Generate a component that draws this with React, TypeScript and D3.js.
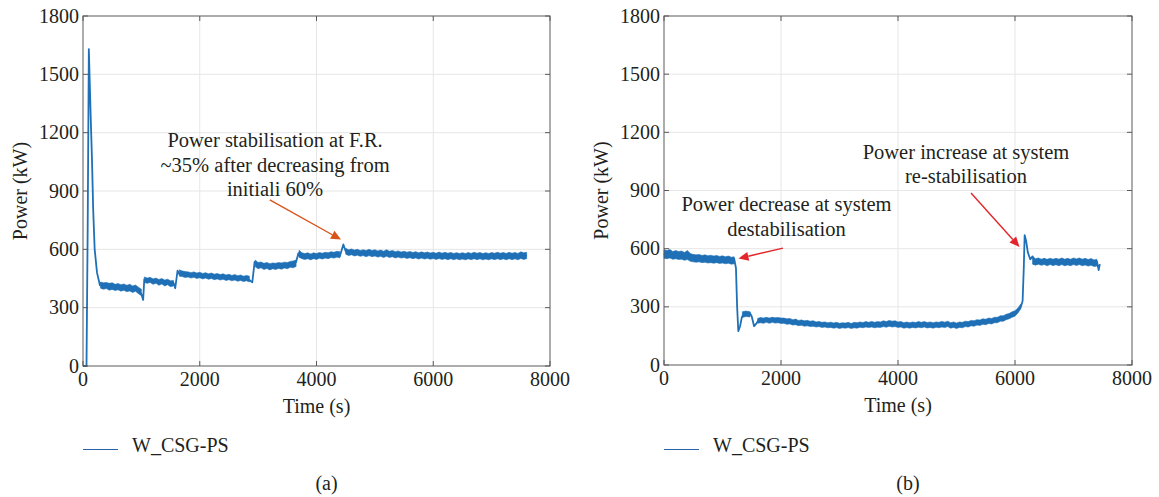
import React from "react";
import * as d3 from "d3";

const xTicks = [0, 2000, 4000, 6000, 8000];
const yTicks = [0, 300, 600, 900, 1200, 1500, 1800];
const seriesName = "W_CSG-PS";

// Panel (a): [time (s), power (kW)]
const seriesA: [number, number][] = [
  [0, 0], [60, 0], [80, 700], [100, 1630], [130, 1300], [155, 1050], [175, 800], [200, 600], [240, 480], [290, 415],
  [300, 425], [350, 405], [400, 418], [450, 400], [500, 412], [550, 398], [600, 408], [650, 392], [700, 405], [750, 395],
  [800, 402], [850, 388], [900, 398], [950, 380], [1000, 370], [1030, 340],
  [1050, 445], [1100, 432], [1150, 448], [1200, 430], [1250, 442], [1300, 425], [1350, 440], [1400, 422], [1450, 435],
  [1500, 418], [1550, 428], [1580, 400],
  [1620, 490], [1650, 472], [1700, 485], [1750, 468], [1800, 480], [1850, 462], [1900, 478], [1950, 460], [2000, 475],
  [2050, 458], [2100, 472], [2150, 455], [2200, 470], [2250, 455], [2300, 468], [2350, 452], [2400, 466], [2450, 450],
  [2500, 465], [2550, 448], [2600, 462], [2650, 446], [2700, 460], [2750, 444], [2800, 458], [2850, 442], [2900, 430],
  [2940, 535], [2980, 520], [3000, 512], [3050, 528], [3100, 505], [3150, 522], [3200, 502], [3250, 518], [3300, 505],
  [3350, 520], [3400, 508], [3450, 522], [3500, 510], [3550, 528], [3600, 515], [3650, 535],
  [3690, 580], [3720, 560], [3750, 572], [3800, 555], [3850, 570], [3900, 552], [3950, 568], [4000, 555], [4050, 572],
  [4100, 556], [4150, 570], [4200, 558], [4250, 574], [4300, 560], [4350, 576], [4400, 565], [4460, 625], [4500, 590],
  [4550, 575], [4600, 592], [4650, 574], [4700, 590], [4750, 572], [4800, 588], [4850, 570], [4900, 590], [4950, 572],
  [5000, 586], [5050, 568], [5100, 585], [5150, 568], [5200, 590], [5250, 570], [5300, 584], [5350, 566], [5400, 582],
  [5450, 565], [5500, 580], [5550, 563], [5600, 578], [5650, 562], [5700, 576], [5750, 560], [5800, 575], [5850, 558],
  [5900, 574], [5950, 558], [6000, 572], [6050, 556], [6100, 574], [6150, 556], [6200, 572], [6250, 555], [6300, 572],
  [6350, 556], [6400, 570], [6450, 555], [6500, 570], [6550, 554], [6600, 572], [6650, 556], [6700, 574], [6750, 556],
  [6800, 572], [6850, 555], [6900, 570], [6950, 554], [7000, 572], [7050, 556], [7100, 574], [7150, 556], [7200, 572],
  [7250, 555], [7300, 574], [7350, 556], [7400, 572], [7450, 555], [7500, 576], [7550, 558], [7600, 570],
];

// Panel (a) noise envelope: [time (s), low (kW), high (kW)], null = gap
const bandA: ([number, number, number] | null)[] = [
  [300, 400, 432], [350, 395, 428], [400, 398, 430], [450, 390, 425], [500, 394, 428], [550, 388, 420], [600, 392, 424],
  [650, 385, 418], [700, 390, 422], [750, 382, 415], [800, 386, 420], [850, 378, 412], [900, 384, 416], [950, 372, 405],
  [1000, 362, 395], null,
  [1050, 430, 458], [1100, 425, 452], [1150, 430, 456], [1200, 420, 448], [1250, 426, 452], [1300, 415, 445],
  [1350, 422, 450], [1400, 412, 442], [1450, 418, 446], [1500, 408, 438], [1550, 412, 440], null,
  [1650, 462, 495], [1700, 460, 488], [1750, 455, 486], [1800, 458, 484], [1850, 452, 480], [1900, 456, 484],
  [1950, 450, 478], [2000, 454, 482], [2050, 448, 476], [2100, 452, 480], [2150, 446, 474], [2200, 450, 478],
  [2250, 444, 472], [2300, 448, 476], [2350, 442, 470], [2400, 446, 474], [2450, 440, 468], [2500, 444, 472],
  [2550, 438, 466], [2600, 442, 470], [2650, 436, 464], [2700, 440, 468], [2750, 434, 462], [2800, 438, 466],
  [2850, 432, 462], null,
  [2950, 510, 545], [3000, 500, 532], [3050, 505, 535], [3100, 496, 528], [3150, 502, 532], [3200, 494, 526],
  [3250, 500, 530], [3300, 496, 528], [3350, 502, 532], [3400, 498, 530], [3450, 504, 534], [3500, 500, 532],
  [3550, 508, 538], [3600, 505, 540], [3650, 512, 545], null,
  [3700, 560, 595], [3750, 552, 582], [3800, 548, 578], [3850, 552, 582], [3900, 546, 576], [3950, 552, 582],
  [4000, 548, 578], [4050, 554, 584], [4100, 550, 580], [4150, 555, 585], [4200, 552, 582], [4250, 558, 588],
  [4300, 555, 585], [4350, 560, 590], [4400, 556, 588], null,
  [4500, 575, 605], [4550, 568, 598], [4600, 572, 602], [4650, 566, 596], [4700, 570, 600], [4750, 564, 594],
  [4800, 568, 598], [4850, 562, 594], [4900, 568, 600], [4950, 562, 594], [5000, 566, 598], [5050, 560, 592],
  [5100, 564, 596], [5150, 558, 590], [5200, 565, 598], [5250, 558, 590], [5300, 562, 594], [5350, 556, 588],
  [5400, 560, 592], [5450, 555, 586], [5500, 558, 590], [5550, 553, 585], [5600, 557, 589], [5650, 552, 584],
  [5700, 556, 588], [5750, 550, 582], [5800, 555, 587], [5850, 550, 582], [5900, 554, 586], [5950, 549, 581],
  [6000, 553, 585], [6050, 548, 580], [6100, 553, 586], [6150, 548, 580], [6200, 552, 585], [6250, 547, 580],
  [6300, 552, 584], [6350, 547, 579], [6400, 551, 583], [6450, 546, 578], [6500, 550, 583], [6550, 546, 578],
  [6600, 551, 584], [6650, 547, 579], [6700, 552, 585], [6750, 547, 580], [6800, 551, 584], [6850, 546, 578],
  [6900, 550, 583], [6950, 546, 578], [7000, 551, 584], [7050, 547, 580], [7100, 552, 585], [7150, 547, 580],
  [7200, 551, 584], [7250, 546, 579], [7300, 552, 585], [7350, 547, 580], [7400, 551, 584], [7450, 546, 579],
  [7500, 553, 587], [7550, 548, 582], [7600, 552, 585],
];

// Panel (b): [time (s), power (kW)]
const seriesB: [number, number][] = [
  [0, 575], [50, 560], [100, 585], [150, 555], [200, 578], [250, 560], [300, 575], [350, 556], [400, 580], [450, 552],
  [500, 565], [550, 545], [600, 560], [650, 540], [700, 558], [750, 538], [800, 556], [850, 538], [900, 555], [950, 535],
  [1000, 552], [1050, 535], [1100, 555], [1150, 532], [1200, 548], [1230, 500], [1250, 300], [1270, 175], [1300, 200],
  [1330, 245], [1370, 268], [1420, 260], [1470, 268], [1500, 250], [1540, 200], [1580, 215], [1620, 232], [1700, 225],
  [1750, 238], [1800, 226], [1850, 240], [1900, 228], [1950, 238], [2000, 225], [2050, 236], [2100, 222], [2150, 234],
  [2200, 220], [2250, 232], [2300, 218], [2350, 228], [2400, 214], [2450, 225], [2500, 212], [2550, 222], [2600, 208],
  [2650, 218], [2700, 205], [2750, 216], [2800, 204], [2850, 214], [2900, 200], [2950, 212], [3000, 198], [3050, 210],
  [3100, 200], [3150, 212], [3200, 196], [3250, 210], [3300, 198], [3350, 214], [3400, 200], [3450, 215], [3500, 202],
  [3550, 216], [3600, 200], [3650, 214], [3700, 202], [3750, 218], [3800, 204], [3850, 220], [3900, 205], [3950, 218],
  [4000, 203], [4050, 214], [4100, 198], [4150, 212], [4200, 197], [4250, 212], [4300, 198], [4350, 214], [4400, 200],
  [4450, 214], [4500, 198], [4550, 212], [4600, 197], [4650, 213], [4700, 200], [4750, 215], [4800, 202], [4850, 216],
  [4900, 198], [4950, 212], [5000, 196], [5050, 212], [5100, 200], [5150, 216], [5200, 204], [5250, 220], [5300, 208],
  [5350, 224], [5400, 212], [5450, 228], [5500, 215], [5550, 232], [5600, 220], [5650, 236], [5700, 226], [5750, 244],
  [5800, 234], [5850, 252], [5900, 246], [5950, 262], [6000, 262], [6050, 282], [6100, 300], [6130, 330], [6150, 500],
  [6165, 670], [6190, 640], [6220, 580], [6260, 545], [6300, 560], [6350, 525], [6400, 545], [6450, 522], [6500, 545],
  [6550, 520], [6600, 542], [6650, 518], [6700, 540], [6750, 520], [6800, 545], [6850, 518], [6900, 542], [6950, 520],
  [7000, 544], [7050, 522], [7100, 545], [7150, 520], [7200, 542], [7250, 518], [7300, 540], [7350, 515], [7400, 535],
  [7430, 490], [7450, 520],
];

// Panel (b) noise envelope: [time (s), low (kW), high (kW)], null = gap
const bandB: ([number, number, number] | null)[] = [
  [0, 550, 595], [50, 548, 590], [100, 552, 596], [150, 545, 585], [200, 548, 590], [250, 544, 585], [300, 546, 588],
  [350, 540, 580], [400, 544, 590], [450, 535, 575], [500, 532, 570], [550, 530, 568], [600, 532, 570], [650, 528, 565],
  [700, 530, 568], [750, 526, 563], [800, 528, 566], [850, 525, 562], [900, 528, 565], [950, 524, 560], [1000, 526, 563],
  [1050, 522, 558], [1100, 525, 562], [1150, 520, 556], [1200, 522, 558], null,
  [1340, 245, 275], [1400, 250, 278], [1470, 248, 275], null,
  [1600, 215, 240], [1650, 218, 245], [1700, 215, 242], [1750, 220, 246], [1800, 215, 242], [1850, 220, 246],
  [1900, 216, 244], [1950, 218, 245], [2000, 214, 242], [2050, 215, 242], [2100, 210, 238], [2150, 212, 240],
  [2200, 206, 234], [2250, 208, 236], [2300, 203, 230], [2350, 205, 232], [2400, 200, 228], [2450, 202, 230],
  [2500, 198, 226], [2550, 200, 228], [2600, 196, 222], [2650, 198, 225], [2700, 194, 220], [2750, 196, 222],
  [2800, 192, 218], [2850, 194, 221], [2900, 190, 217], [2950, 193, 220], [3000, 188, 215], [3050, 192, 218],
  [3100, 190, 216], [3150, 193, 220], [3200, 188, 214], [3250, 192, 220], [3300, 190, 218], [3350, 195, 222],
  [3400, 192, 219], [3450, 196, 224], [3500, 193, 220], [3550, 196, 225], [3600, 192, 220], [3650, 195, 224],
  [3700, 194, 222], [3750, 198, 228], [3800, 195, 224], [3850, 200, 230], [3900, 196, 226], [3950, 198, 228],
  [4000, 194, 222], [4050, 196, 224], [4100, 190, 218], [4150, 193, 222], [4200, 190, 218], [4250, 194, 222],
  [4300, 191, 219], [4350, 195, 224], [4400, 192, 220], [4450, 196, 224], [4500, 191, 219], [4550, 194, 222],
  [4600, 190, 218], [4650, 195, 222], [4700, 192, 220], [4750, 196, 225], [4800, 193, 221], [4850, 198, 226],
  [4900, 190, 218], [4950, 194, 222], [5000, 188, 216], [5050, 194, 222], [5100, 192, 220], [5150, 198, 226],
  [5200, 196, 224], [5250, 202, 230], [5300, 200, 228], [5350, 206, 234], [5400, 204, 232], [5450, 210, 238],
  [5500, 208, 236], [5550, 214, 242], [5600, 212, 240], [5650, 218, 246], [5700, 218, 246], [5750, 226, 254],
  [5800, 226, 254], [5850, 234, 262], [5900, 238, 266], [5950, 246, 274], [6000, 252, 280], [6050, 268, 294],
  [6100, 290, 315], null,
  [6300, 520, 560], [6350, 515, 548], [6400, 520, 552], [6450, 514, 546], [6500, 518, 550], [6550, 512, 545],
  [6600, 518, 550], [6650, 513, 546], [6700, 517, 550], [6750, 512, 546], [6800, 518, 552], [6850, 512, 546],
  [6900, 516, 550], [6950, 512, 545], [7000, 518, 552], [7050, 513, 547], [7100, 518, 552], [7150, 512, 546],
  [7200, 516, 550], [7250, 510, 544], [7300, 515, 549], [7350, 508, 542], [7400, 510, 545],
];

// Annotations in data coordinates
const notesA = ["Power stabilisation at F.R.", "~35% after decreasing from", "initiali 60%"];
const notesB1 = ["Power decrease at system", "destabilisation"];
const notesB2 = ["Power increase at system", "re-stabilisation"];

type Note = { lines: string[]; tx: number; ty: number; from: [number, number]; to: [number, number]; color: string };

const panels = [
  {
    label: "(a)",
    data: seriesA,
    band: bandA,
    left: 83,
    right: 550,
    top: 16,
    bottom: 366,
    notes: [
      { lines: notesA, tx: 3290, ty: 1126, from: [3200, 854], to: [4420, 650], color: "#d95319" } as Note,
    ],
  },
  {
    label: "(b)",
    data: seriesB,
    band: bandB,
    left: 664,
    right: 1132,
    top: 16,
    bottom: 365,
    notes: [
      { lines: notesB1, tx: 2094, ty: 792, from: [2034, 603], to: [1274, 549], color: "#e3262b" } as Note,
      { lines: notesB2, tx: 5162, ty: 1065, from: [5248, 887], to: [6077, 609], color: "#e3262b" } as Note,
    ],
  },
];

const FONT = "'Liberation Serif', 'DejaVu Serif', serif";
const FS = 20;
const FSN = 20.5;
const TXT = "#231f20";
const LINE = "#1f70b6";
const AXIS = "#5a5a5a";
const GRID = "#e6e6e6";

function Panel({ p }: { p: (typeof panels)[number] }) {
  const x = d3.scaleLinear().domain([0, 8000]).range([p.left, p.right]);
  const y = d3.scaleLinear().domain([0, 1800]).range([p.bottom, p.top]);
  const line = d3
    .line<[number, number]>()
    .x((d) => x(d[0]))
    .y((d) => y(d[1]));
  const area = d3
    .area<[number, number, number] | null>()
    .defined((d) => d !== null)
    .x((d) => x(d![0]))
    .y0((d) => y(d![1]))
    .y1((d) => y(d![2]));
  const tk = 5;
  const cx = (p.left + p.right) / 2;
  const cy = (p.top + p.bottom) / 2;
  return (
    <g>
      {xTicks.slice(1, -1).map((t) => (
        <line key={"gx" + t} x1={x(t)} x2={x(t)} y1={p.top} y2={p.bottom} stroke={GRID} strokeWidth={1} />
      ))}
      {yTicks.slice(1, -1).map((t) => (
        <line key={"gy" + t} x1={p.left} x2={p.right} y1={y(t)} y2={y(t)} stroke={GRID} strokeWidth={1} />
      ))}
      <path d={area(p.band) || ""} fill={LINE} stroke={LINE} strokeWidth={0.6} />
      <path d={line(p.data) || ""} fill="none" stroke={LINE} strokeWidth={1.8} strokeLinejoin="round" />
      <rect x={p.left} y={p.top} width={p.right - p.left} height={p.bottom - p.top} fill="none" stroke={AXIS} strokeWidth={1} />
      {xTicks.map((t) => (
        <g key={"tx" + t}>
          <line x1={x(t)} x2={x(t)} y1={p.bottom} y2={p.bottom - tk} stroke={AXIS} />
          <line x1={x(t)} x2={x(t)} y1={p.top} y2={p.top + tk} stroke={AXIS} />
          <text x={x(t)} y={p.bottom + 20} textAnchor="middle" fontFamily={FONT} fontSize={FS} fill={TXT}>
            {t}
          </text>
        </g>
      ))}
      {yTicks.map((t) => (
        <g key={"ty" + t}>
          <line x1={p.left} x2={p.left + tk} y1={y(t)} y2={y(t)} stroke={AXIS} />
          <line x1={p.right} x2={p.right - tk} y1={y(t)} y2={y(t)} stroke={AXIS} />
          <text x={p.left - 4} y={y(t) + 6.5} textAnchor="end" fontFamily={FONT} fontSize={FS} fill={TXT}>
            {t}
          </text>
        </g>
      ))}
      <text x={cx} y={p.bottom + 47} textAnchor="middle" fontFamily={FONT} fontSize={FS} fill={TXT}>
        Time (s)
      </text>
      <text
        transform={`translate(${p.left - 56},${cy}) rotate(-90)`}
        textAnchor="middle"
        fontFamily={FONT}
        fontSize={FS}
        fill={TXT}
      >
        Power (kW)
      </text>
      <line x1={p.left} x2={p.left + 35} y1={449.5} y2={449.5} stroke="#2a64a8" strokeWidth={1.2} />
      <text x={p.left + 49} y={452} fontFamily={FONT} fontSize={FS} fill={TXT}>
        {seriesName}
      </text>
      <text x={x(4000) + 10} y={490} textAnchor="middle" fontFamily={FONT} fontSize={FS} fill={TXT}>
        {p.label}
      </text>
      {p.notes.map((n, i) => {
        const x1 = x(n.from[0]);
        const y1 = y(n.from[1]);
        const x2 = x(n.to[0]);
        const y2 = y(n.to[1]);
        const ang = Math.atan2(y2 - y1, x2 - x1);
        const L = 10;
        const W = 4.5;
        const bx = x2 - L * Math.cos(ang);
        const by = y2 - L * Math.sin(ang);
        const px = -Math.sin(ang) * W;
        const py = Math.cos(ang) * W;
        return (
          <g key={"n" + i}>
            {n.lines.map((s, j) => (
              <text
                key={j}
                x={x(n.tx)}
                y={y(n.ty) + j * 24.5}
                textAnchor="middle"
                fontFamily={FONT}
                fontSize={FSN}
                fill={TXT}
              >
                {s}
              </text>
            ))}
            <line x1={x1} y1={y1} x2={bx} y2={by} stroke={n.color} strokeWidth={1.4} />
            <polygon points={`${x2},${y2} ${bx + px},${by + py} ${bx - px},${by - py}`} fill={n.color} />
          </g>
        );
      })}
    </g>
  );
}

export default function App() {
  return (
    <svg width={1159} height={497} style={{ position: "absolute", left: 0, top: 0, background: "#fff" }}>
      <rect width={1159} height={497} fill="#fff" />
      {panels.map((p) => (
        <Panel key={p.label} p={p} />
      ))}
    </svg>
  );
}
